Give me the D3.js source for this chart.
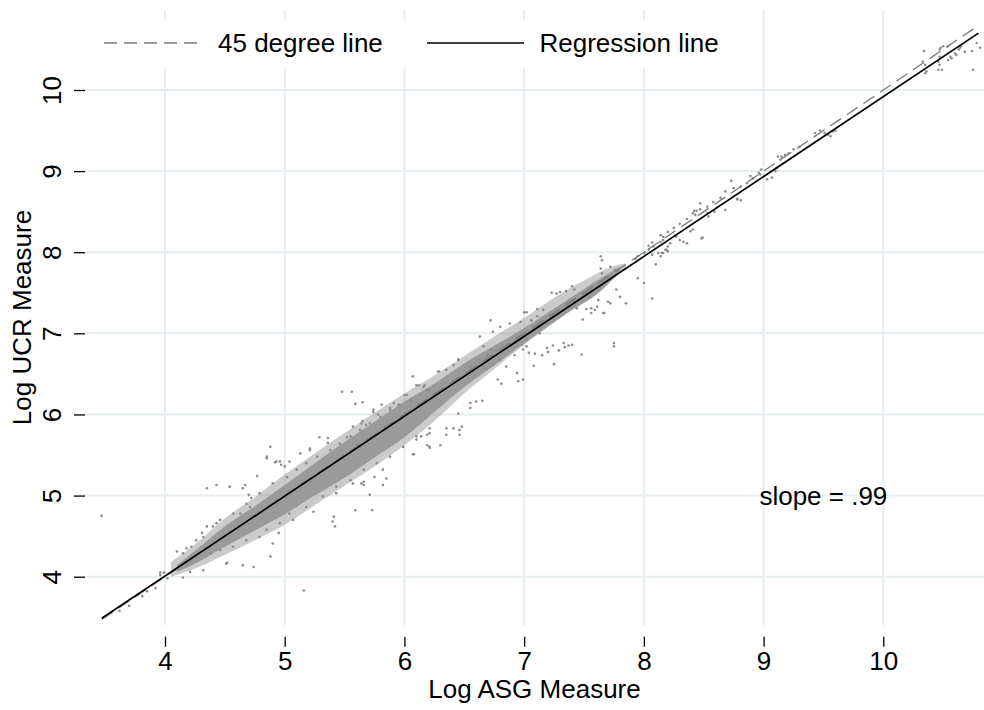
<!DOCTYPE html>
<html>
<head>
<meta charset="utf-8">
<script src="https://cdn.jsdelivr.net/npm/d3@7"></script>
<style>
  body { margin: 0; background: #fff; }
  svg text { font-family: "Liberation Sans", Arial, Helvetica, sans-serif; fill: #000; }
</style>
</head>
<body>
<script>
// ---- data ----
const xTicks = [4, 5, 6, 7, 8, 9, 10];
const yTicks = [4, 5, 6, 7, 8, 9, 10];

// dense core of the cloud: x, lower edge, upper edge
const coreX  = [4.10, 4.25, 4.50, 4.75, 5.00, 5.25, 5.50, 5.75, 6.00, 6.25, 6.50, 6.80, 7.08, 7.36, 7.63, 7.80];
const coreLo = [4.06, 4.16, 4.37, 4.57, 4.77, 5.00, 5.22, 5.47, 5.72, 6.03, 6.34, 6.66, 6.96, 7.25, 7.51, 7.76];
const coreHi = [4.14, 4.32, 4.62, 4.87, 5.13, 5.40, 5.66, 5.91, 6.16, 6.38, 6.63, 6.89, 7.14, 7.41, 7.67, 7.82];

// sparser fringe around the core
const fringeX  = [4.05, 4.25, 4.50, 4.75, 5.00, 5.25, 5.50, 5.75, 6.00, 6.25, 6.50, 6.75, 7.00, 7.25, 7.50, 7.75, 7.85];
const fringeLo = [4.00, 4.10, 4.27, 4.45, 4.64, 4.88, 5.12, 5.36, 5.62, 5.92, 6.26, 6.56, 6.86, 7.13, 7.40, 7.68, 7.80];
const fringeHi = [4.18, 4.40, 4.72, 4.98, 5.26, 5.52, 5.77, 6.02, 6.26, 6.48, 6.72, 6.96, 7.19, 7.44, 7.65, 7.83, 7.86];

// individual points outside the dense core
const points = [
  [3.47,4.75],[3.62,3.58],[3.70,3.64],[3.81,3.76],[3.85,3.82],[3.92,3.86],[3.96,4.02],[3.99,4.05],
  [3.96,4.05],[4.02,3.98],[4.15,3.99],[4.21,4.06],[4.32,4.08],[4.10,4.31],[4.15,4.29],[4.18,4.35],
  [4.22,4.37],[4.26,4.45],[4.31,4.54],[4.35,4.62],[4.40,4.62],[4.46,4.70],[4.35,5.09],[4.43,5.13],
  [4.54,5.11],[4.65,5.09],[4.52,4.17],[4.65,4.14],[4.74,4.12],[4.88,4.25],[4.51,4.16],[4.95,4.54],
  [4.90,4.41],[4.63,4.78],[4.71,4.86],[4.79,5.03],[4.70,5.01],[4.72,4.97],[4.77,5.24],[4.67,5.13],
  [4.88,5.60],[4.85,5.46],[4.93,5.42],[4.97,5.38],[4.85,5.48],[4.92,5.41],[4.96,5.42],[5.00,5.36],
  [5.04,5.42],[5.13,5.52],[5.21,5.56],[5.21,5.58],[5.29,5.72],[5.36,5.71],[5.36,5.65],[5.52,5.72],
  [5.48,6.28],[5.56,6.28],[5.59,6.13],[5.65,6.15],[5.57,5.85],[5.64,5.89],[5.65,5.92],[5.68,5.87],
  [5.74,6.06],[5.78,6.00],[5.74,6.03],[5.81,6.12],[5.88,6.08],[5.91,6.14],[5.95,6.12],[6.00,6.24],
  [6.02,6.24],[6.10,6.36],[6.07,6.47],[6.12,6.36],[6.16,6.34],[6.19,6.30],[6.29,6.53],[6.28,6.53],
  [6.17,6.36],[6.45,6.68],
  [4.38,4.29],[4.46,4.33],[4.57,4.37],[4.68,4.45],[4.79,4.49],[4.85,4.58],[4.96,4.66],
  [4.32,4.49],[4.43,4.66],[4.57,4.78],[4.68,4.90],[4.90,5.15],[5.02,5.23],
  [5.07,4.70],[5.04,4.78],[5.18,4.86],[5.24,4.80],[5.41,4.74],[5.42,4.62],[5.40,4.68],[5.59,4.82],
  [5.73,4.82],[5.64,5.15],[5.57,5.15],[5.66,5.17],[5.71,5.01],[5.82,5.32],[5.75,5.23],[5.85,5.21],
  [5.82,5.13],[5.66,5.13],[5.43,5.03],[6.07,5.51],[6.08,5.51],[6.21,5.60],[6.30,5.62],[6.35,5.83],
  [6.45,6.01],[6.10,5.73],[6.19,5.75],[6.14,5.73],[6.19,5.62],[6.21,5.83],[6.21,5.59],[6.46,5.81],
  [6.48,5.85],[6.41,5.83],[6.35,5.75],[6.46,5.75],[5.16,3.83],
  [5.10,5.32],[5.18,5.40],[5.27,5.48],[5.38,5.56],[5.46,5.64],[5.55,5.73],[5.63,5.81],[5.71,5.89],
  [5.80,5.97],[5.88,6.06],[5.96,6.12],[6.05,6.18],[6.13,6.24],[6.21,6.30],
  [5.32,4.99],[5.43,5.11],[5.55,5.19],[5.66,5.32],[5.77,5.40],[5.88,5.48],[5.99,5.60],[6.10,5.69],[6.21,5.77],
  [6.63,6.96],[6.74,7.02],[6.80,7.08],[6.88,7.12],[6.97,7.14],[7.06,7.16],[7.11,7.21],[7.16,7.29],
  [6.72,7.16],[7.00,7.26],[7.02,7.26],[7.23,7.50],[7.27,7.49],[7.30,7.51],[7.35,7.52],[7.40,7.58],
  [7.42,7.54],[7.41,7.41],[7.44,7.31],[7.11,7.30],
  [6.55,6.14],[6.60,6.16],[6.65,6.17],[6.55,6.08],[6.81,6.38],[6.78,6.43],[6.95,6.41],[6.99,6.43],
  [6.94,6.51],[6.92,6.73],[6.85,6.59],[6.80,6.67],[6.74,6.61],[6.72,6.80],[6.66,6.84],[6.69,6.73],
  [6.63,6.67],[6.55,6.59],[6.60,6.57],[6.51,6.53],[6.45,6.67],[6.41,6.61],[6.35,6.55],[6.99,6.80],
  [7.02,6.84],[7.04,6.76],[7.09,6.75],[7.08,6.60],[7.25,6.62],[7.48,6.74],[7.15,6.73],[7.19,6.82],
  [7.20,6.77],[7.24,6.85],[7.29,6.79],[7.33,6.88],[7.34,6.83],[7.37,6.85],[7.40,6.86],[7.75,6.88],
  [7.75,6.84],[7.02,6.92],[6.98,6.86],[6.94,6.94],[7.08,7.04],[7.13,7.00],[7.49,7.17],[7.52,7.30],
  [7.56,7.31],[7.62,7.41],[7.67,7.25],[7.70,7.39],[7.59,7.29],[7.56,7.25],[7.61,7.33],[7.66,7.25],
  [7.72,7.37],[7.77,7.54],[7.80,7.45],[7.85,7.37],[8.07,7.43],[8.00,7.62],[7.95,7.68],[8.10,7.85],
  [7.64,7.95],[7.65,7.90],[7.64,7.80],[7.65,7.74],[7.72,7.82],[7.76,7.78],
  [7.93,7.92],[7.95,7.95],[8.00,7.99],[8.04,8.03],[8.08,8.07],[8.14,8.13],[8.16,8.19],[8.20,8.25],
  [8.25,8.30],[8.30,8.35],[8.36,8.41],[8.41,8.48],[8.47,8.53],[8.53,8.56],[8.58,8.62],[8.64,8.67],
  [8.68,8.75],[8.75,8.79],[8.81,8.81],[8.86,8.85],[8.91,8.91],[8.97,8.96],[9.12,9.18],[9.18,9.20],
  [9.21,9.22],[9.25,9.27],[9.30,9.30],[9.14,9.14],
  [8.73,8.88],[8.78,8.65],[8.68,8.52],[8.78,8.66],[8.81,8.64],[8.59,8.50],[8.61,8.55],[8.54,8.44],
  [8.49,8.18],[8.48,8.17],[8.44,8.51],[8.43,8.46],[8.36,8.11],[8.33,8.13],[8.30,8.15],[8.27,8.19],
  [8.14,8.21],[8.16,8.15],[8.20,8.07],[8.18,8.03],[8.15,7.99],[8.14,7.95],[8.20,8.01],[8.22,8.11],
  [8.07,8.12],[8.04,8.08],[8.01,8.00],[8.07,7.97],[8.19,8.03],[8.16,7.99],[8.12,7.99],[8.41,8.28],
  [8.39,8.26],[8.53,8.48],[8.42,8.51],[8.47,8.60],[9.03,8.90],[9.07,8.92],[9.10,9.00],[9.11,9.04],
  [9.15,9.18],[8.89,8.94],[8.96,8.98],[8.98,9.02],
  [9.43,9.47],[9.47,9.50],[9.51,9.47],[9.54,9.45],[9.56,9.43],[9.58,9.49],[9.60,9.50],
  [10.34,10.48],[10.33,10.35],[10.35,10.31],[10.36,10.23],[10.35,10.21],[10.46,10.35],[10.47,10.31],
  [10.46,10.25],[10.49,10.25],[10.47,10.50],[10.50,10.54],[10.47,10.41],[10.54,10.37],[10.57,10.39],
  [10.56,10.41],[10.60,10.45],[10.63,10.50],[10.64,10.52],[10.65,10.54],[10.74,10.48],[10.75,10.25],
  [10.78,10.58],[10.81,10.52],[10.68,10.47],[10.61,10.43],[10.54,10.54],[10.48,10.52]
];

// fitted line and 45 degree line span the data range
const lineRange = [3.472, 10.795];
const regIntercept = 0.068;
const regSlope = 0.985;
const slopeLabel = { x: 8.965, y: 5, text: "slope = .99" };

const legendItems = ["45 degree line", "Regression line"];

// ---- layout ----
const width = 984, height = 710;
const plot = { left: 85, right: 984, top: 10, bottom: 625 };
const gridColor = "#e6eef1";
const markColor = "#8c8c8c";
const fontSize = 26;

const svg = d3.select("body").append("svg")
    .attr("width", width)
    .attr("height", height);

const x = d3.scaleLinear().domain([4, 10]).range([165, 883.3]);
const y = d3.scaleLinear().domain([4, 10]).range([576.7, 90]);

// grid
svg.append("g").selectAll("line")
    .data(xTicks)
    .enter()
  .append("line")
    .attr("x1", d => x(d)).attr("x2", d => x(d))
    .attr("y1", plot.top).attr("y2", plot.bottom)
    .attr("stroke", gridColor)
    .attr("stroke-width", 2);

svg.append("g").selectAll("line")
    .data(yTicks)
    .enter()
  .append("line")
    .attr("x1", plot.left).attr("x2", plot.right)
    .attr("y1", d => y(d)).attr("y2", d => y(d))
    .attr("stroke", gridColor)
    .attr("stroke-width", 2);

// axes
const xAxis = d3.axisBottom(x)
    .tickValues(xTicks)
    .tickFormat(d3.format("d"))
    .tickSize(10)
    .tickPadding(5)
    .tickSizeOuter(0);

const xAxisGroup = svg.append("g")
    .attr("transform", `translate(0, ${plot.bottom + 11.7})`)
    .call(xAxis);
xAxisGroup.select(".domain").remove();
xAxisGroup.selectAll(".tick line").attr("stroke", "#000").attr("stroke-width", 1.3);
xAxisGroup.selectAll(".tick text")
    .attr("font-size", fontSize)
    .attr("font-family", null);

const yAxis = d3.axisLeft(y)
    .tickValues(yTicks)
    .tickFormat(d3.format("d"))
    .tickSize(11)
    .tickSizeOuter(0);

const yAxisGroup = svg.append("g")
    .attr("transform", `translate(${plot.left}, 0)`)
    .call(yAxis);
yAxisGroup.select(".domain").remove();
yAxisGroup.selectAll(".tick line").attr("stroke", "#000").attr("stroke-width", 1.3);
yAxisGroup.selectAll(".tick text")
    .attr("font-size", fontSize)
    .attr("font-family", null)
    .attr("x", null).attr("dy", null)
    .attr("text-anchor", "middle")
    .attr("transform", "translate(-24, 0) rotate(-90)");

// axis titles
svg.append("text")
    .attr("x", (plot.left + plot.right) / 2)
    .attr("y", 698)
    .attr("text-anchor", "middle")
    .attr("font-size", fontSize)
    .text("Log ASG Measure");

svg.append("text")
    .attr("transform", `translate(31, ${(plot.top + plot.bottom) / 2}) rotate(-90)`)
    .attr("text-anchor", "middle")
    .attr("font-size", fontSize)
    .text("Log UCR Measure");

// scatter: sparse fringe, dense core, then single points
const band = d3.area()
    .x(d => x(d[0]))
    .y0(d => y(d[1]))
    .y1(d => y(d[2]))
    .curve(d3.curveMonotoneX);

svg.append("path")
    .datum(fringeX.map((d, i) => [d, fringeLo[i], fringeHi[i]]))
    .attr("fill", markColor)
    .attr("fill-opacity", 0.45)
    .attr("d", band);

svg.append("path")
    .datum(coreX.map((d, i) => [d, coreLo[i], coreHi[i]]))
    .attr("fill", "#9a9a9a")
    .attr("d", band);

svg.append("g").selectAll("circle")
    .data(points)
    .enter()
  .append("circle")
    .attr("cx", d => x(d[0]))
    .attr("cy", d => y(d[1]))
    .attr("r", 1.3)
    .attr("fill", markColor);

// 45 degree line and regression line
svg.append("line")
    .attr("x1", x(lineRange[0])).attr("y1", y(lineRange[0]))
    .attr("x2", x(lineRange[1])).attr("y2", y(lineRange[1]))
    .attr("stroke", "#7a7a7a")
    .attr("stroke-width", 1.3)
    .attr("stroke-dasharray", "13,7");

svg.append("line")
    .attr("x1", x(lineRange[0])).attr("y1", y(regIntercept + regSlope * lineRange[0]))
    .attr("x2", x(lineRange[1])).attr("y2", y(regIntercept + regSlope * lineRange[1]))
    .attr("stroke", "#000")
    .attr("stroke-width", 1.7);

// slope note
svg.append("text")
    .attr("x", x(slopeLabel.x))
    .attr("y", y(slopeLabel.y) + 0.37 * fontSize)
    .attr("font-size", fontSize)
    .text(slopeLabel.text);

// legend
const legend = svg.append("g");
legend.append("rect")
    .attr("x", 92).attr("y", 20)
    .attr("width", 640).attr("height", 48)
    .attr("fill", "#fff");

legend.append("line")
    .attr("x1", 104).attr("x2", 204).attr("y1", 43).attr("y2", 43)
    .attr("stroke", "#7a7a7a").attr("stroke-width", 1.3)
    .attr("stroke-dasharray", "13,7");
legend.append("text")
    .attr("x", 218).attr("y", 52)
    .attr("font-size", fontSize)
    .text(legendItems[0]);

legend.append("line")
    .attr("x1", 427).attr("x2", 524).attr("y1", 43).attr("y2", 43)
    .attr("stroke", "#000").attr("stroke-width", 1.7);
legend.append("text")
    .attr("x", 539.5).attr("y", 52)
    .attr("font-size", fontSize)
    .text(legendItems[1]);
</script>
</body>
</html>
